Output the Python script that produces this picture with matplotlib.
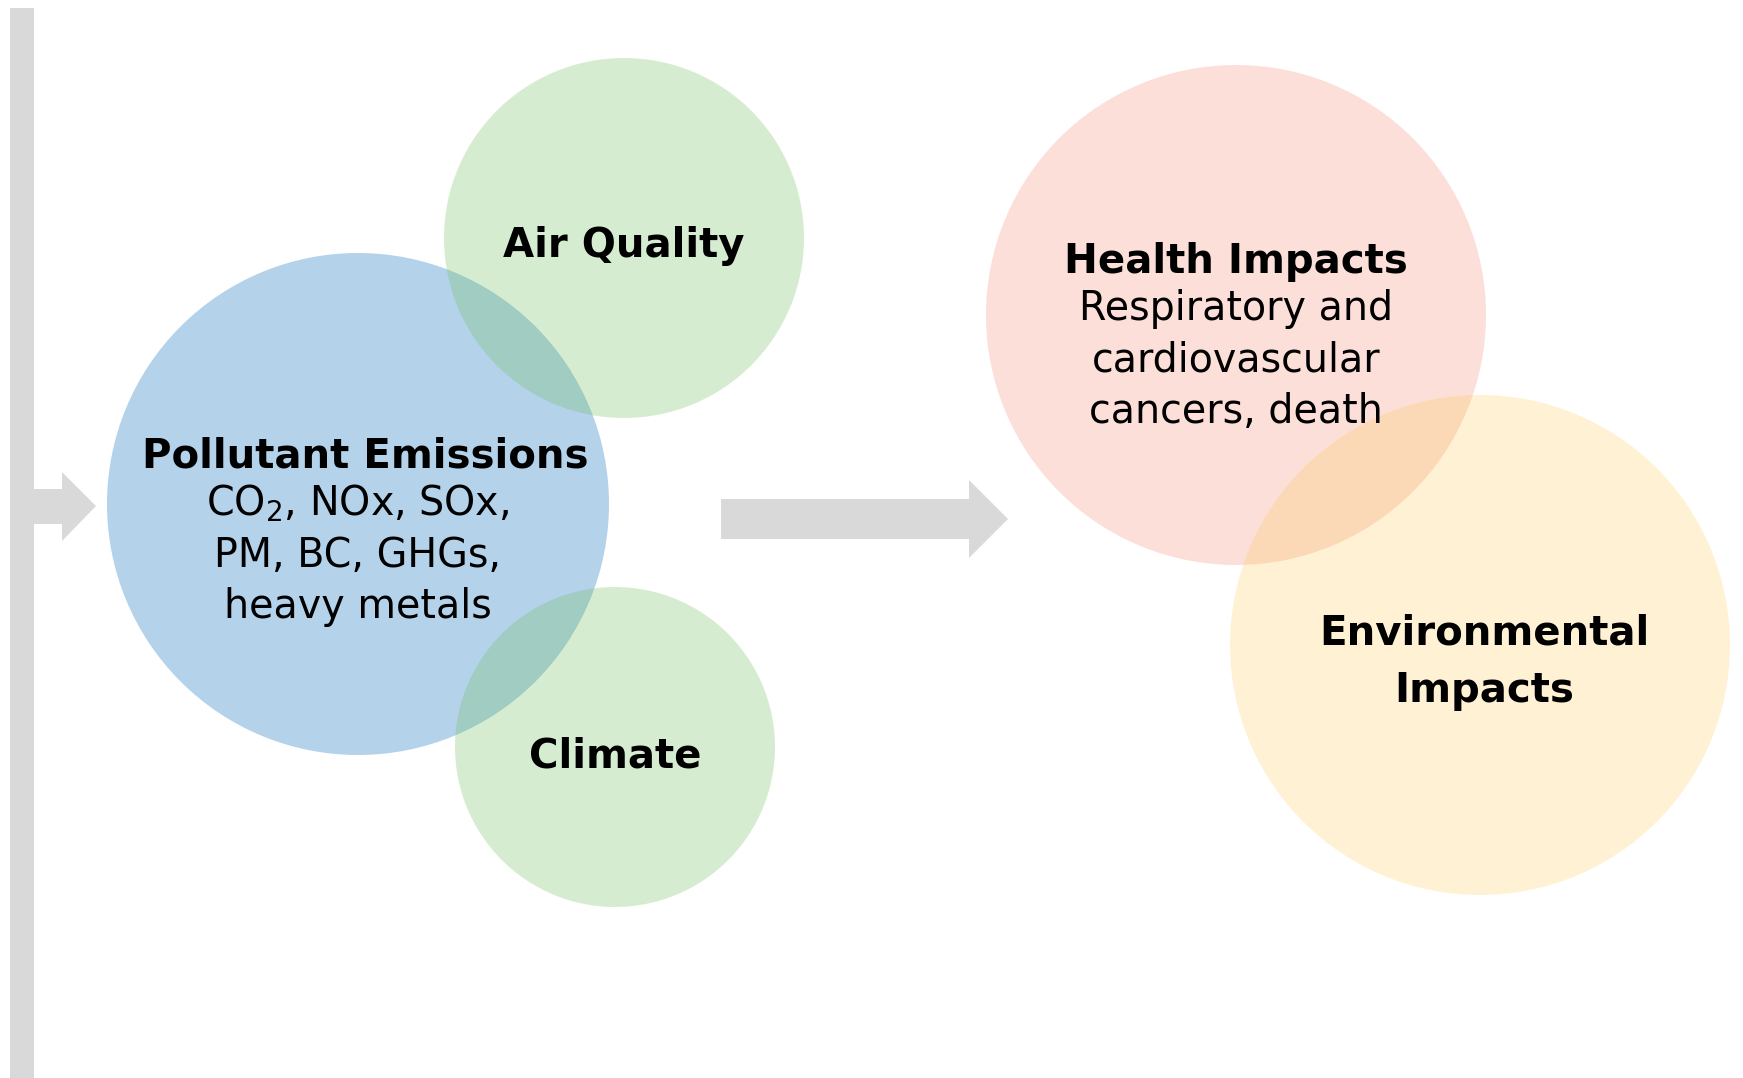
import matplotlib
matplotlib.use("Agg")
import matplotlib.pyplot as plt
from matplotlib.patches import Circle, Rectangle, Polygon

plt.rcParams['font.family'] = ['DejaVu Sans']
plt.rcParams['mathtext.default'] = 'regular'

# ---- content ----
titles = ["Pollutant Emissions", "Air Quality", "Climate", "Health Impacts", "Environmental\nImpacts"]
subtexts = ["CO$_2$, NOx, SOx,\nPM, BC, GHGs,\nheavy metals", "", "", "Respiratory and\ncardiovascular\ncancers, death", ""]

W, H = 1743, 1078
fig = plt.figure(figsize=(W / 100, H / 100), dpi=100)
ax = fig.add_axes([0, 0, 1, 1])
ax.set_xlim(0, W)
ax.set_ylim(H, 0)
ax.set_aspect('equal')
ax.axis('off')

gray = '#D9D9D9'
# left vertical bar
ax.add_patch(Rectangle((10, 8), 24, H - 8, color=gray, lw=0))
# small arrow from bar
ax.add_patch(Polygon([(34, 489), (62, 489), (62, 472), (96, 506), (62, 541), (62, 524), (34, 524)],
                     closed=True, color=gray, lw=0))
# middle arrow
ax.add_patch(Polygon([(721, 499), (969, 499), (969, 480), (1008, 519), (969, 558), (969, 539), (721, 539)],
                     closed=True, color=gray, lw=0))

# circles
ax.add_patch(Circle((358, 504), 251, color='#B4D2EA', lw=0))
ax.add_patch(Circle((624, 238), 180, color='#6BBC58', alpha=0.27, lw=0))
ax.add_patch(Circle((615, 747), 160, color='#6BBC58', alpha=0.27, lw=0))
ax.add_patch(Circle((1236, 315), 250, color='#FCDFD9', lw=0))
ax.add_patch(Circle((1480, 645), 250, color='#FFC644', alpha=0.23, lw=0))

bold = dict(ha='center', va='baseline', fontweight='bold', color='black', fontsize=29)
reg = dict(ha='center', va='baseline', color='black', fontsize=28.5, linespacing=1.37)

# Pollutant Emissions
ax.text(365, 468, titles[0], **bold)
ax.text(358, 618, subtexts[0], **reg)
# Air Quality
ax.text(624, 257, titles[1], **bold)
# Climate
ax.text(615, 767, titles[2], **bold)
# Health impacts
ax.text(1236, 273, titles[3], **bold)
ax.text(1236, 423, subtexts[3], **reg)
# Environmental impacts
ax.text(1484, 702, titles[4], linespacing=1.55, **bold)

fig.savefig('out.png', dpi=100)
